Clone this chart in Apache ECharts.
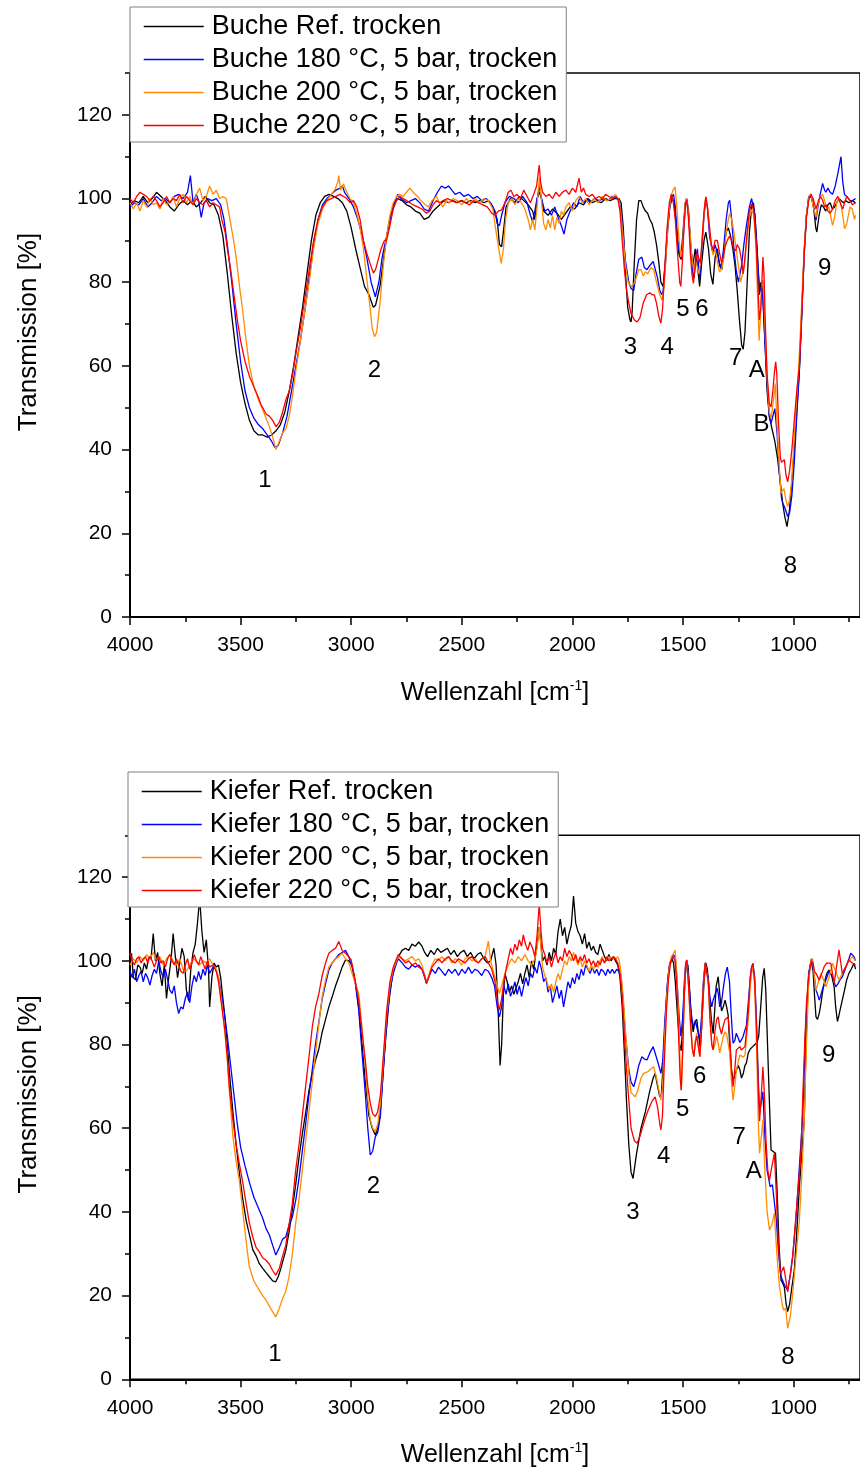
<!DOCTYPE html>
<html>
<head>
<meta charset="utf-8">
<script src="https://cdn.jsdelivr.net/npm/echarts@6/dist/echarts.min.js"></script>
<style>
html,body{margin:0;padding:0;background:#fff;}
#chart{width:860px;height:1472px;}
</style>
</head>
<body>
<div id="chart"></div>
<script>
// ---------- tick values ----------
const xTickLabels = [1000, 1500, 2000, 2500, 3000, 3500, 4000];
const xMinorTicks = [750, 1250, 1750, 2250, 2750, 3250, 3750];
const yTickLabels = [0, 20, 40, 60, 80, 100, 120];
const yMinorTicks = [10, 30, 50, 70, 90, 110, 130];

// ---------- series names ----------
const bucheNames = ['Buche Ref. trocken', 'Buche 180 °C, 5 bar, trocken', 'Buche 200 °C, 5 bar, trocken', 'Buche 220 °C, 5 bar, trocken'];
const kieferNames = ['Kiefer Ref. trocken', 'Kiefer 180 °C, 5 bar, trocken', 'Kiefer 200 °C, 5 bar, trocken', 'Kiefer 220 °C, 5 bar, trocken'];
const colors = ['#000000', '#0000ff', '#ff8c00', '#ff0000'];

// ---------- Buche: [wavenumber, transmission] ----------
const bucheRef = [[4000,98.5],[3980,99.5],[3960,99],[3940,100.5],[3920,99],[3900,100],[3880,101.5],[3860,100.5],[3840,99.5],[3820,98],[3800,97],[3780,98.5],[3760,99.5],[3740,98.5],[3720,99.5],[3700,98],[3680,99],[3660,100.5],[3640,99],[3620,98.5],[3600,96],[3580,91],[3560,82],[3540,72],[3520,63],[3500,56],[3480,51],[3460,47],[3440,44.5],[3420,43.5],[3400,43.5],[3380,43],[3360,43.5],[3340,44.5],[3320,46],[3300,49],[3280,54],[3260,60],[3240,67],[3220,74],[3200,82],[3180,90],[3160,96],[3140,99],[3120,100.5],[3100,101],[3080,100.5],[3060,100],[3040,99],[3020,97],[3000,93],[2980,88],[2960,83.5],[2940,79],[2920,77],[2900,74],[2890,74.5],[2870,79],[2850,87],[2830,94],[2810,98.5],[2790,100],[2770,99.5],[2750,98.5],[2730,98],[2710,97],[2690,96.5],[2670,95],[2650,95.5],[2630,97],[2600,98.5],[2580,99.5],[2560,99],[2540,99.5],[2520,99],[2500,99.5],[2480,99],[2460,99.5],[2440,99],[2420,99.5],[2400,99],[2380,99.5],[2360,98],[2340,95],[2330,89],[2320,88.5],[2310,93],[2300,98],[2280,100],[2260,99],[2240,100.5],[2220,99.5],[2200,98.5],[2180,97],[2170,95],[2160,99.5],[2150,103],[2140,100],[2130,97],[2110,96],[2090,97.5],[2070,96.5],[2050,95],[2030,96.5],[2010,98],[1990,97.5],[1970,99],[1950,98.5],[1930,100],[1910,99],[1890,99.5],[1870,99],[1850,100],[1830,99.5],[1810,100],[1790,100],[1780,99],[1770,93],[1760,82],[1750,74],[1740,71],[1735,70.5],[1730,73],[1720,85],[1710,95],[1700,99.5],[1690,99.5],[1680,98],[1670,97],[1660,96.5],[1650,95],[1640,94],[1630,92],[1620,89],[1610,85],[1600,80],[1590,79],[1580,85],[1570,93],[1560,98],[1550,100],[1540,99],[1530,93],[1520,87],[1510,85.5],[1500,92],[1490,99],[1483,99.5],[1475,96],[1465,88],[1455,84],[1445,88],[1435,84],[1425,79],[1415,85],[1405,90],[1397,92],[1385,88],[1375,82],[1365,79.5],[1355,86],[1345,88],[1335,84],[1325,83],[1315,88],[1305,92],[1295,93],[1285,91],[1275,88],[1265,84],[1255,78],[1245,71],[1235,65],[1228,64],[1220,68],[1210,80],[1200,92],[1190,98],[1182,99],[1175,96],[1165,88],[1155,77],[1148,80],[1140,78],[1130,66],[1120,54],[1110,48],[1100,45.5],[1085,42],[1072,37.6],[1060,32],[1049,27],[1040,24],[1030,21.6],[1020,25],[1010,31],[997,40],[985,50],[974,59],[962,75],[952,87],[942,96],[932,100],[920,100.5],[910,98],[900,93],[895,92],[885,96],[875,98.5],[865,98],[855,97],[845,98.5],[835,99],[825,97.5],[815,98],[805,99],[795,100],[785,99.5],[775,99],[765,99.5],[750,99],[735,99.5],[720,99]];

const buche180 = [[4000,98],[3980,99],[3960,98.5],[3940,100],[3920,98],[3900,99],[3880,100.5],[3860,99.5],[3840,100],[3820,99],[3800,100.5],[3780,101],[3760,100],[3740,101.5],[3727,105.5],[3715,99],[3700,101],[3690,99.5],[3678,95.5],[3665,99],[3650,100],[3630,99.5],[3610,100],[3590,98.5],[3575,95],[3560,89],[3540,80],[3520,70],[3500,61],[3480,54],[3460,50],[3440,47.5],[3420,46],[3400,45],[3380,43.5],[3360,42],[3345,40.5],[3330,41],[3310,44],[3290,48],[3270,54],[3250,60],[3230,66],[3210,73],[3190,81],[3170,89],[3150,95],[3130,98.5],[3110,100],[3090,101],[3070,102],[3050,102.5],[3040,103],[3030,101.5],[3010,100],[2990,98],[2970,95],[2950,91],[2930,86],[2910,80],[2891,76.5],[2875,80],[2860,86],[2840,91],[2820,96],[2800,99.5],[2790,101],[2775,100],[2750,99],[2730,99.5],[2710,100],[2690,99],[2670,97.5],[2650,97],[2630,99.5],[2610,101.5],[2592,103],[2575,102.5],[2560,103],[2545,102],[2530,101],[2510,101.5],[2490,100.5],[2470,101],[2450,100],[2430,100.5],[2410,99.5],[2390,100],[2370,99],[2350,97],[2340,94],[2330,93.5],[2320,96],[2305,99],[2285,100.5],[2265,100],[2245,99],[2225,100.5],[2205,99],[2190,96],[2180,94.5],[2170,97],[2160,100],[2150,101.5],[2140,100],[2125,97],[2110,97.5],[2095,96],[2080,98],[2065,95.5],[2050,93.5],[2038,91.5],[2025,95],[2010,97],[1995,99],[1980,98],[1965,100.5],[1950,99],[1935,100],[1920,99],[1900,100],[1880,99.5],[1860,100],[1840,99.5],[1820,100.5],[1800,100],[1790,99.5],[1780,97],[1770,91],[1760,85],[1745,80],[1735,78.5],[1723,78],[1712,82],[1700,85.5],[1686,86],[1675,83.5],[1663,83],[1650,84],[1635,85],[1626,84.6],[1615,81],[1605,78],[1596,77],[1590,78],[1580,84],[1570,92],[1560,98],[1550,100.5],[1543,101],[1535,98],[1525,91],[1515,86.5],[1507,85.5],[1500,90],[1490,98],[1483,100],[1475,97],[1465,89],[1455,82],[1450,81],[1442,86],[1435,88],[1430,84],[1424,81],[1415,88],[1405,96],[1397,99.5],[1390,98],[1380,91],[1370,88],[1364,87],[1355,89],[1345,87],[1335,84.5],[1326,83.6],[1315,89],[1305,95],[1295,99],[1289,99.6],[1280,95],[1270,88],[1260,83],[1250,80],[1243,79.7],[1235,84],[1225,89],[1215,93],[1200,98],[1190,100],[1184,100],[1175,96],[1165,87],[1155,79],[1148,78],[1140,77],[1130,66],[1120,56],[1110,48],[1102,46.3],[1094,48],[1085,49.8],[1075,44],[1065,35],[1055,28.5],[1049,27.2],[1042,26.4],[1036,25.5],[1027,24],[1018,25],[1008,29],[997,37],[987,47],[975,58],[963,72],[952,87.7],[942,96],[932,100.4],[922,101],[912,98.5],[899,94.8],[890,98],[880,101],[869,103.6],[860,102],[854,101.5],[845,102.5],[835,101.5],[824,101],[812,103],[800,106],[786,110],[778,104],[770,101],[760,100.5],[745,99.5],[734,99.5],[720,100]];

const buche200 = [[4000,99],[3985,97.5],[3970,99],[3955,97],[3940,99.5],[3925,98],[3910,100],[3895,98.5],[3880,99],[3865,97.5],[3850,100],[3835,98.5],[3820,99],[3805,100.5],[3790,98],[3775,100],[3760,101],[3745,99],[3730,100.5],[3715,98.5],[3700,101],[3685,102.5],[3670,99.5],[3655,100.5],[3640,103],[3625,101],[3610,102],[3595,100],[3580,100.5],[3565,100],[3555,97],[3545,94],[3535,91],[3520,86],[3505,79],[3490,73],[3475,66],[3460,60],[3440,55],[3420,52],[3400,49.5],[3385,47.5],[3370,45.5],[3355,43],[3340,40],[3325,42],[3310,44],[3295,45],[3280,48],[3265,53],[3250,59],[3230,66],[3210,73],[3190,80],[3170,88],[3150,94],[3130,97.5],[3110,99.5],[3090,101],[3075,102],[3060,104],[3056,105.5],[3048,102],[3035,103.5],[3020,101.5],[3005,100],[2990,99],[2975,96.5],[2960,93],[2945,88],[2930,81],[2915,74],[2905,69],[2895,67],[2885,68],[2870,75],[2855,84],[2840,91],[2825,96],[2810,99],[2795,100.5],[2780,101],[2765,100.5],[2750,101.5],[2735,102.5],[2720,101.5],[2700,100.5],[2685,99.5],[2665,98.5],[2650,98],[2635,99.5],[2615,100.5],[2600,99],[2585,98],[2570,99.5],[2555,99],[2540,100],[2520,99.5],[2500,98.5],[2480,100],[2460,99],[2440,100],[2420,99],[2400,100],[2380,99.5],[2360,97.5],[2345,92],[2333,88],[2322,84.5],[2312,88],[2302,95],[2290,99],[2275,100],[2260,98.5],[2245,100],[2230,99],[2215,97.5],[2200,95],[2190,92.5],[2180,95],[2170,92.5],[2160,98],[2150,105],[2140,99.5],[2130,94],[2120,92.5],[2110,95],[2100,93],[2090,96],[2080,92.5],[2070,95.5],[2060,94],[2050,97],[2040,96],[2030,98],[2015,99],[2000,97],[1985,99.5],[1970,100.5],[1955,99],[1940,100],[1925,98.5],[1905,100],[1885,99],[1865,100.5],[1845,99.5],[1825,100],[1805,101],[1790,99.5],[1780,96],[1770,90],[1760,84],[1748,80],[1735,79],[1723,79.5],[1712,81],[1700,83],[1690,83],[1680,81.5],[1670,82.5],[1660,82],[1645,83.5],[1633,83],[1620,80],[1605,77],[1595,75.7],[1585,79],[1575,88],[1565,96],[1555,100.5],[1545,102],[1536,102.8],[1528,98],[1518,90],[1510,86],[1503,88],[1495,95],[1488,100],[1480,99],[1470,93],[1460,86],[1452,83],[1445,85],[1437,84],[1428,82],[1420,85],[1410,93],[1400,99.5],[1395,100.4],[1385,96],[1375,90],[1364,86.5],[1355,88],[1345,85],[1335,82.5],[1326,83],[1315,86],[1305,92],[1295,95],[1289,96.4],[1280,95],[1270,92],[1260,88],[1250,84],[1240,80],[1232,79.7],[1222,84],[1212,90],[1200,95.5],[1190,97.4],[1180,96],[1170,88],[1162,75],[1156,66],[1150,72],[1143,80],[1137,80.5],[1130,70],[1120,57],[1110,49],[1102,47.5],[1093,51],[1083,55.8],[1075,46],[1065,36],[1057,29.6],[1050,30.2],[1044,30.7],[1035,28],[1027,26.4],[1018,28],[1008,33],[998,42],[988,51],[977,60],[966,72],[954,86],[943,96],[932,100],[922,101.2],[912,98],[899,95.6],[890,98.5],[880,100.5],[869,101],[860,99.5],[850,97.5],[840,98],[830,95],[824,93.6],[815,95.5],[805,99],[795,100],[786,98.5],[778,96],[770,92.8],[760,94],[745,98],[735,97.5],[725,95],[720,96]];

const buche220 = [[4000,100],[3985,99],[3970,100.5],[3955,101.5],[3940,101],[3925,100.5],[3910,99.5],[3895,100.5],[3880,99.5],[3865,98],[3850,99],[3835,100.5],[3820,99],[3805,100],[3790,99.5],[3775,101],[3760,99],[3745,100.5],[3730,99.5],[3715,98.5],[3700,100],[3685,99],[3670,98.5],[3655,99.5],[3640,98],[3625,99],[3610,98.5],[3595,98],[3585,95],[3570,92],[3560,88],[3545,83],[3530,77],[3515,71],[3500,66],[3480,61],[3460,57.5],[3440,55],[3420,52.5],[3410,51],[3400,50],[3385,48.5],[3370,48],[3355,47],[3340,45.5],[3325,46.5],[3310,49],[3295,52],[3280,54],[3265,58],[3250,63],[3230,69],[3210,76],[3190,83],[3170,90],[3150,95],[3130,98],[3110,99.5],[3090,100],[3070,100.5],[3050,101],[3035,100.5],[3020,100],[3005,99],[2990,99.5],[2975,98],[2960,95],[2945,90],[2930,87],[2915,84.5],[2900,82.2],[2890,83],[2880,85],[2865,88],[2850,90],[2840,90],[2825,93.5],[2810,97.5],[2795,99.5],[2780,100.5],[2765,100],[2750,99.5],[2735,99],[2720,98.5],[2700,98],[2680,97.5],[2660,96.5],[2645,97],[2630,98.5],[2615,99.5],[2600,99],[2585,99.5],[2565,100],[2545,99.5],[2525,99],[2505,99.5],[2485,99],[2465,98.5],[2445,99.5],[2425,99],[2405,98.5],[2385,98],[2365,96.5],[2350,96],[2335,97],[2320,97.3],[2305,99],[2290,101.5],[2278,102],[2265,100.5],[2250,101],[2235,100],[2220,102],[2205,100.5],[2190,99],[2175,101],[2162,103],[2155,106],[2150,108],[2144,104],[2135,101.5],[2120,100.5],[2105,101],[2090,100],[2075,101.5],[2060,100.5],[2045,101.5],[2030,102],[2015,101],[2000,102.5],[1985,101.5],[1970,104.9],[1960,101.5],[1950,102.5],[1940,101],[1925,100.5],[1910,101],[1895,100],[1880,100.5],[1865,100],[1850,101],[1835,100.5],[1820,100],[1805,100.5],[1795,100],[1785,97],[1775,90],[1765,83],[1755,78],[1745,75],[1735,72.5],[1720,71],[1708,70.5],[1695,71.5],[1680,75],[1665,77],[1650,77.5],[1640,77],[1630,77],[1620,75],[1610,72],[1600,70.2],[1592,74],[1582,84],[1572,93],[1562,99],[1553,101],[1545,99.5],[1535,95],[1525,87],[1515,80],[1510,79],[1503,85],[1495,94],[1488,99],[1483,99.6],[1475,95],[1467,87],[1460,82],[1453,79.7],[1445,84],[1437,87],[1430,86],[1422,84.5],[1414,90],[1405,97],[1397,100.4],[1390,98],[1380,93],[1372,89],[1364,87.7],[1355,90],[1345,90],[1335,87],[1326,84.7],[1318,86],[1310,88.5],[1300,90],[1290,91],[1280,90],[1270,88],[1262,87.5],[1255,89],[1245,88],[1235,85],[1228,82],[1220,86],[1210,92],[1200,97],[1190,98.8],[1180,97],[1170,90],[1162,80],[1155,71],[1148,74],[1142,82],[1139,86],[1134,82],[1128,70],[1120,58],[1110,51],[1102,50.2],[1094,54],[1086,59],[1081,61],[1076,58],[1068,46],[1060,38],[1055,37],[1048,37.2],[1042,37.6],[1035,34],[1027,32.3],[1018,35],[1008,40],[997,47],[986,54],[974,60],[963,73],[952,87],[942,95.5],[932,99.5],[922,101],[912,100],[899,97.5],[888,99.5],[878,100.5],[869,99.6],[860,98],[854,98.5],[845,97],[835,96.5],[824,97.5],[812,99.5],[800,100.5],[786,98.5],[778,97.5],[770,99],[760,100.5],[745,99.5],[734,98.5],[720,99]];

// ---------- Kiefer: [wavenumber, transmission] ----------
const kieferRef = [[4000,100],[3993,101.8],[3985,96],[3975,95.5],[3965,99],[3955,98.5],[3945,97],[3935,99.5],[3925,98],[3915,101],[3905,100.5],[3895,106.5],[3885,100],[3875,102],[3865,97],[3855,94],[3845,99],[3835,91],[3825,96],[3815,100],[3805,106.5],[3795,101],[3785,96],[3775,99.5],[3765,103],[3755,101],[3745,93],[3735,90.5],[3725,98],[3715,102],[3705,104],[3695,109],[3685,115],[3675,107],[3665,102],[3655,105],[3645,98],[3640,89],[3630,96],[3620,99.5],[3610,98.5],[3600,99],[3590,96],[3580,91],[3570,86],[3560,80],[3550,73],[3535,64],[3520,56],[3505,49],[3490,43],[3475,38],[3460,34.5],[3445,31],[3430,29.5],[3416,27.7],[3400,26.5],[3385,25.5],[3370,24.5],[3355,23.5],[3341,23.3],[3330,24.5],[3318,26.5],[3305,29],[3295,31],[3280,35.5],[3265,41],[3250,47],[3236,53],[3220,59],[3205,64],[3191,69],[3176,73],[3161,76.3],[3146,79],[3131,83],[3116,86],[3101,89],[3086,91.4],[3071,94],[3056,96.2],[3041,98.5],[3026,100.2],[3010,100],[2996,99],[2981,95],[2966,89],[2951,80],[2936,71],[2920,63],[2905,60],[2891,58.4],[2880,60],[2870,63],[2860,70],[2845,81],[2830,90],[2815,96],[2800,99.5],[2787,101],[2770,102.5],[2755,103],[2740,102.5],[2725,104],[2710,103.5],[2695,104.5],[2680,103.5],[2668,102],[2655,101],[2640,102.5],[2625,101.5],[2610,103],[2595,102],[2580,102.5],[2565,103],[2550,101.5],[2535,102.5],[2520,101],[2505,102],[2490,102.5],[2475,101],[2460,102],[2445,100.5],[2430,101.5],[2415,102],[2400,100.5],[2385,99.5],[2370,100],[2355,103],[2345,99],[2335,87],[2327,75],[2320,80],[2312,92],[2305,97],[2295,95],[2285,92.5],[2275,94],[2265,92],[2255,93.5],[2245,95],[2235,97],[2225,94.5],[2215,97],[2205,99],[2195,96],[2185,100],[2175,98],[2165,102],[2157,105],[2150,108],[2142,104],[2135,100],[2125,101],[2115,99],[2105,102],[2095,100],[2085,103],[2075,101.5],[2065,107],[2055,110],[2045,106],[2035,108],[2025,104],[2015,106.5],[2005,108.5],[1995,115.5],[1985,109],[1975,107],[1965,106],[1955,104],[1945,106.5],[1935,103],[1925,104.5],[1915,102.5],[1905,103.5],[1895,102],[1885,101.5],[1875,104],[1865,102.5],[1855,101],[1845,100],[1835,101.5],[1825,100],[1815,101],[1805,100],[1795,99],[1785,96],[1775,89],[1765,78],[1755,66],[1745,56],[1735,49.5],[1726,48],[1718,51],[1710,54],[1700,57],[1690,60],[1670,64],[1650,69],[1635,72],[1626,73.1],[1615,70],[1605,67.5],[1598,68],[1590,75],[1580,86],[1570,95],[1560,99.5],[1550,100.5],[1543,99.5],[1535,95],[1525,87],[1515,80],[1508,78.5],[1500,86],[1492,95],[1485,99.5],[1478,99],[1470,93],[1462,86],[1454,83],[1446,85.5],[1438,86],[1430,82.5],[1422,79],[1414,86],[1405,95],[1397,99.5],[1390,98],[1380,91],[1372,86],[1364,82.6],[1357,88],[1350,94],[1341,96.2],[1334,92],[1326,88],[1318,89],[1310,90.6],[1303,89],[1296,87],[1289,80],[1281,74],[1274,71.5],[1266,72.5],[1258,74],[1250,75],[1243,74],[1236,72],[1228,73],[1220,75],[1214,75.5],[1205,78],[1195,79],[1185,79.5],[1175,80],[1165,80.5],[1158,82],[1150,88],[1140,96],[1133,98.2],[1126,93],[1118,80],[1110,67],[1102,54.8],[1094,55],[1082,54],[1074,44],[1066,32],[1057,23.7],[1050,23],[1042,22],[1034,18],[1027,16.2],[1018,18],[1008,22],[997,26.1],[986,35],[974,46],[963,54],[952,62],[944,80],[936,92],[928,98],[920,100],[912,97.5],[906,92],[899,86.6],[892,86],[884,87.5],[876,90],[868,93],[862,94.6],[850,97],[840,97.8],[828,96.5],[817,93.8],[810,89],[802,85.5],[795,87],[787,89],[780,90.6],[770,93],[760,95.5],[750,97],[740,98],[727,99.4],[720,98]];

const kiefer180 = [[4000,97.5],[3990,96],[3980,98],[3970,95],[3960,96.5],[3950,97.5],[3940,95],[3930,97],[3920,96],[3910,94.2],[3900,96.5],[3890,98],[3880,97],[3870,100],[3860,97.5],[3850,96],[3840,98],[3830,95.5],[3820,93],[3810,92.2],[3800,94],[3790,90],[3780,87.4],[3770,89],[3760,88.5],[3750,91],[3740,92.5],[3730,90],[3720,94],[3710,96.5],[3700,95],[3690,97.5],[3680,95.5],[3670,98],[3660,96.5],[3650,99],[3640,97],[3630,98],[3620,99],[3610,97.5],[3600,96],[3590,93],[3575,88],[3560,82],[3545,75],[3530,68],[3515,61],[3500,55.5],[3480,51],[3460,47],[3440,43.5],[3420,41],[3400,38.5],[3385,36],[3370,34.5],[3355,32],[3341,29.7],[3325,31.5],[3310,33.5],[3296,34],[3280,37],[3266,38.8],[3250,43],[3236,48],[3220,55],[3206,61],[3191,68],[3176,74],[3161,80.3],[3146,85.5],[3131,91],[3116,94.5],[3101,97.8],[3086,99.5],[3071,100.5],[3056,101.5],[3041,102],[3026,102.5],[3011,101],[2996,98.5],[2981,94.5],[2966,88.2],[2951,78],[2936,68],[2925,60],[2914,53.6],[2903,54.5],[2891,58],[2880,59],[2868,63],[2855,74],[2840,85],[2825,93],[2810,97],[2795,99.5],[2787,100.5],[2770,99.5],[2755,98.5],[2740,98],[2725,99],[2710,98.5],[2695,99],[2680,98],[2668,96],[2660,94.6],[2650,96],[2635,98],[2620,97],[2605,98.5],[2590,97.5],[2575,96.5],[2560,98],[2545,97],[2530,98],[2515,96.5],[2500,98],[2485,97],[2470,98.5],[2455,97],[2440,98],[2425,97.5],[2410,96.5],[2395,98],[2380,97.5],[2365,96],[2352,94],[2340,89],[2330,86.6],[2320,89],[2310,94],[2300,92],[2290,94.5],[2280,91.5],[2270,93],[2260,95],[2250,92],[2240,94],[2230,91.5],[2220,94],[2210,96],[2200,94],[2190,97],[2180,96],[2170,98.5],[2160,97],[2150,100],[2140,98],[2130,95],[2120,96],[2110,92.5],[2100,94],[2090,90],[2080,92],[2070,94],[2060,91],[2050,93],[2040,89],[2030,92],[2020,95],[2010,93.5],[2000,96],[1990,94.5],[1980,97],[1970,95.5],[1960,98],[1950,96.5],[1940,99],[1930,98],[1920,97],[1910,98.5],[1900,97],[1890,98],[1880,96.5],[1870,98],[1860,97.5],[1850,96.5],[1840,98],[1830,97],[1820,98],[1810,97],[1800,98],[1790,97.5],[1780,96],[1770,90],[1760,82],[1745,74],[1735,71],[1723,69.9],[1712,72],[1700,75],[1686,77.1],[1673,76.5],[1663,76.3],[1650,78],[1635,79.5],[1626,79.5],[1615,76],[1600,73.1],[1592,76],[1583,85],[1573,93],[1563,98.5],[1553,100],[1545,101.5],[1536,101],[1528,96],[1518,87],[1510,82],[1502,86],[1494,95],[1488,99.5],[1483,100.2],[1475,96],[1466,89],[1458,85.5],[1451,84.3],[1444,85.5],[1439,85.1],[1432,83],[1424,81],[1416,87],[1408,95],[1400,99.5],[1394,99.8],[1386,96],[1378,91],[1370,89],[1364,90.6],[1355,92],[1346,93.5],[1341,92.2],[1334,89],[1326,90],[1318,93.5],[1308,97],[1300,98.5],[1296,98.6],[1290,95],[1282,87],[1274,80.3],[1266,81],[1259,82.7],[1250,81.5],[1243,80.5],[1236,81.1],[1228,82],[1220,83.5],[1214,84.3],[1205,90],[1196,96],[1190,98.5],[1184,99.4],[1176,96],[1168,86],[1160,72],[1154,63.6],[1147,66],[1139,68.7],[1130,58],[1120,50],[1106,46],[1096,46.5],[1087,46.4],[1078,38],[1068,30],[1057,24.5],[1045,23],[1036,22],[1027,21.3],[1015,25],[1003,30],[990,38],[975,50],[960,62],[945,85],[932,97],[920,100.5],[912,98.5],[906,96],[899,93],[892,92],[884,90.6],[876,92],[868,93.5],[862,93.8],[850,96],[840,97.5],[832,97.8],[822,96],[810,93.8],[800,94.5],[790,95.5],[780,96.2],[770,97.5],[760,99],[750,100.5],[742,101.8],[735,101.5],[727,101],[720,100]];

const kiefer200 = [[4000,99],[3985,100.5],[3970,99.5],[3955,101],[3940,100],[3925,101.5],[3910,100.5],[3895,102],[3880,100],[3865,101],[3850,99],[3835,100.5],[3820,101.5],[3805,100],[3790,99],[3775,100.5],[3760,98],[3745,97.5],[3730,99],[3715,100.5],[3700,100],[3685,99],[3670,100],[3655,99.5],[3640,100.5],[3625,99],[3610,98],[3600,96],[3585,90],[3570,82],[3560,76],[3551,69],[3535,58],[3520,52],[3506,47.6],[3490,40],[3475,33],[3461,27],[3440,23.5],[3416,21.3],[3400,20],[3386,19],[3365,17],[3341,14.9],[3325,17],[3310,19.3],[3296,21],[3281,24.5],[3266,30],[3251,37.3],[3236,43],[3221,50],[3206,57],[3191,64],[3176,71],[3161,78],[3146,85],[3131,91.5],[3116,95.5],[3101,98.5],[3086,99.5],[3071,100.5],[3056,101],[3041,101.8],[3026,100.5],[3011,99.5],[2996,97],[2981,94.5],[2966,92.2],[2951,84],[2936,75],[2925,67],[2914,62],[2903,60],[2891,59.2],[2880,61],[2868,66],[2855,76],[2840,87],[2825,94],[2810,98],[2795,100],[2787,101],[2770,100.5],[2755,100],[2740,100.5],[2725,101],[2710,100],[2695,100.5],[2680,99],[2668,96.5],[2660,95],[2650,96.5],[2635,99],[2620,100.5],[2605,100],[2590,101],[2575,100],[2560,101],[2545,99.5],[2530,100.5],[2515,100],[2500,99],[2485,100.5],[2470,101],[2455,100],[2440,100.5],[2425,99.5],[2410,100.5],[2395,101],[2380,104.7],[2370,100],[2360,98],[2345,95],[2330,92.2],[2318,94.5],[2305,97],[2290,99],[2275,100.5],[2260,99.5],[2245,101],[2230,100],[2215,101.5],[2200,100],[2185,99],[2170,100.5],[2160,103],[2150,108],[2142,103],[2135,98.5],[2125,96.5],[2115,95],[2105,93],[2095,94.5],[2085,92.5],[2075,95],[2065,97],[2055,95.5],[2045,98],[2035,100],[2025,99],[2015,101],[2005,100],[1995,102],[1985,100.5],[1975,99],[1965,100.5],[1955,98.5],[1945,100],[1935,99],[1925,97.5],[1915,99],[1905,98],[1895,99.5],[1885,98.5],[1875,100],[1865,101],[1855,99.5],[1845,100.5],[1835,101],[1825,100.5],[1815,101],[1805,100.5],[1795,101],[1788,100],[1780,97],[1770,91],[1760,83],[1745,73],[1735,68.5],[1716,67.5],[1705,69],[1690,72],[1678,73.1],[1660,73.5],[1633,74.7],[1620,72],[1600,66.7],[1592,70],[1583,82],[1573,92],[1563,98],[1553,101],[1545,101.5],[1536,102.6],[1528,97],[1520,87],[1512,73],[1508,69.1],[1502,78],[1494,92],[1488,99],[1483,100.2],[1475,94],[1466,85],[1458,79],[1451,77.1],[1444,81],[1438,82.7],[1431,80],[1424,77.1],[1416,84],[1408,94],[1400,99.5],[1394,99.8],[1386,95],[1378,86],[1370,80],[1364,78.7],[1356,80],[1348,82],[1341,80.3],[1334,78],[1326,80],[1318,82],[1310,83],[1303,82.5],[1296,82.7],[1289,78],[1281,71],[1274,66.7],[1266,70],[1259,73.9],[1250,76],[1243,77.5],[1236,77.1],[1228,77],[1220,77.5],[1214,77.1],[1205,86],[1196,94],[1190,97],[1184,98.6],[1176,94],[1168,80],[1160,62],[1154,54],[1146,58],[1139,62],[1130,50],[1120,40],[1109,35.7],[1098,37],[1087,39.7],[1076,30],[1064,22.1],[1052,18],[1045,16.5],[1036,17],[1027,12.2],[1015,15],[1004,20.5],[990,29],[974,38],[962,50],[952,62],[942,80],[932,95],[922,100],[914,100.5],[906,96],[899,93],[888,95],[877,97],[865,95.5],[854,93.8],[840,96],[824,99.4],[810,97.5],[795,95.4],[780,97],[765,98.6],[750,100],[735,101],[720,100]];

const kiefer220 = [[4000,101.8],[3990,100],[3980,99],[3970,100.5],[3960,101],[3950,99.5],[3940,100.5],[3930,101],[3920,99.5],[3910,101],[3900,100],[3890,98.5],[3880,100],[3870,101],[3860,99.5],[3850,100],[3840,98.5],[3830,100.5],[3820,101.5],[3810,100],[3800,99],[3790,100.5],[3780,99],[3770,97.5],[3760,97],[3750,99],[3740,100.5],[3730,98],[3720,99.5],[3710,101.5],[3700,100],[3690,99],[3680,101],[3670,99.5],[3660,98],[3650,100],[3640,98.5],[3625,99],[3610,97.5],[3600,95],[3585,89],[3570,83],[3560,77],[3551,70],[3535,62],[3520,56],[3506,51.6],[3490,47],[3475,42],[3461,37.5],[3445,34],[3430,31.5],[3416,30.5],[3400,29],[3386,28.5],[3370,27.5],[3355,26],[3341,24.9],[3325,26.5],[3311,29.3],[3296,32],[3281,37],[3266,42],[3251,50],[3236,56],[3221,63],[3206,70],[3191,77],[3176,84.2],[3161,89],[3146,92.2],[3131,96.5],[3116,99.5],[3101,101.8],[3086,102.5],[3071,103],[3056,104.6],[3041,102.5],[3026,101.8],[3011,101],[3000,100.2],[2985,96],[2966,90.6],[2951,83],[2936,76],[2925,70],[2914,66],[2903,63.5],[2891,62.8],[2880,64],[2868,68],[2855,77],[2840,88],[2825,95],[2810,98.5],[2795,100.5],[2787,101.5],[2770,100.5],[2755,99.5],[2740,100],[2725,99],[2710,99.5],[2695,98.5],[2680,98],[2668,96.5],[2660,94.6],[2650,96],[2635,98.5],[2620,99.5],[2605,100.5],[2590,99.5],[2575,100.5],[2560,101],[2545,100],[2530,99.5],[2515,100.5],[2500,100],[2485,99.5],[2470,100.5],[2455,101],[2440,100],[2425,99.5],[2410,100.5],[2395,101],[2380,99.5],[2365,98],[2350,95],[2338,90],[2330,88.2],[2320,91],[2310,95],[2300,98],[2290,100.5],[2280,103],[2270,101.5],[2260,104],[2250,102.5],[2240,105],[2230,103.5],[2222,106.2],[2212,104],[2202,102.5],[2192,104.5],[2180,103],[2170,101],[2160,106],[2150,113.6],[2142,107],[2135,103],[2125,101.5],[2115,99.5],[2105,101],[2095,98.5],[2085,100.5],[2075,102],[2065,99.5],[2055,101],[2045,100],[2035,103],[2025,101],[2015,102.5],[2005,101.5],[1995,100],[1985,101.5],[1975,99.5],[1965,101],[1955,100],[1945,101.5],[1935,99.5],[1925,100.5],[1915,99],[1905,100],[1895,98.5],[1885,100],[1875,99],[1865,100.5],[1855,99.5],[1845,101],[1835,100],[1825,100.5],[1815,101],[1805,100.5],[1795,99.5],[1785,97],[1775,91],[1765,82],[1750,70],[1735,60],[1720,57],[1708,56.4],[1695,58],[1678,61.2],[1660,64],[1640,66.5],[1626,67.5],[1615,65],[1605,61],[1600,59.6],[1593,63],[1585,75],[1575,88],[1565,96],[1555,100],[1545,101],[1536,100],[1528,94],[1520,82],[1513,72],[1508,69.1],[1502,78],[1494,92],[1488,99],[1483,100.2],[1475,94],[1466,85],[1458,79],[1451,77.1],[1444,80.5],[1438,82],[1431,79.5],[1424,77.1],[1416,84],[1408,94],[1400,99.5],[1394,99.8],[1386,95],[1378,86],[1370,80],[1364,78.7],[1356,83],[1348,86],[1341,86.6],[1334,84],[1326,82.5],[1318,84.5],[1310,86],[1303,86],[1296,86.6],[1289,82],[1281,74],[1274,69.9],[1266,74],[1259,78.7],[1250,79],[1243,79.5],[1236,78.7],[1228,78.5],[1220,79.5],[1214,79.5],[1205,88],[1196,96],[1190,98.5],[1184,99.4],[1176,95],[1168,84],[1160,70],[1154,61.7],[1146,68],[1139,74.7],[1132,68],[1125,57],[1117,50],[1109,47.6],[1098,51],[1087,54],[1078,44],[1070,33],[1060,25.3],[1052,26],[1045,26.9],[1036,24],[1027,20.9],[1015,25],[1005,29],[997,34.2],[982,44],[967,54],[957,70],[950,80],[942,90],[932,96.5],[920,100],[912,99.5],[906,97.5],[899,97],[884,95.4],[873,97],[862,98.6],[850,99.5],[832,99.4],[817,94.6],[805,99],[795,102.6],[780,97],[765,98.5],[750,100.2],[735,99.5],[720,99]];

// ---------- band annotations: [wavenumber, transmission, label] ----------
const bucheMarks = [[3390,32.7,'1'],[2895,59,'2'],[1738,64.5,'3'],[1572,64.5,'4'],[1500,73.4,'5'],[1415,73.4,'6'],[1262,61.9,'7'],[1167,59,'A'],[1145,46.1,'B'],[1015,12.2,'8'],[860,83.4,'9']];
const kieferMarks = [[3345,6,'1'],[2900,46,'2'],[1727,39.8,'3'],[1587,53.2,'4'],[1502,64.4,'5'],[1425,72.3,'6'],[1246,57.7,'7'],[1180,49.6,'A'],[1026,5.3,'8'],[842,77.5,'9']];

// ---------- chart ----------
const FONT = '"Liberation Sans", Arial, sans-serif';
const X_MIN = 700, X_MAX = 4000, Y_MIN = 0, Y_MAX = 130;

function xMain(grid) {
  return {
    type: 'value', gridIndex: grid, position: 'bottom', inverse: true, min: X_MIN, max: X_MAX,
    name: '{a|Wellenzahl [cm}{s|-1}{a|]}', nameLocation: 'middle', nameGap: 62,
    nameTextStyle: { fontFamily: FONT, color: '#000', fontSize: 25,
      rich: { a: { fontFamily: FONT, color: '#000', fontSize: 25, lineHeight: 28 },
              s: { fontFamily: FONT, color: '#000', fontSize: 14, verticalAlign: 'top', lineHeight: 14 } } },
    axisLine: { show: true, onZero: false, lineStyle: { color: '#000', width: 2 } },
    axisTick: { show: true, customValues: xTickLabels, length: 8, lineStyle: { color: '#000', width: 1.5 } },
    axisLabel: { show: true, customValues: xTickLabels, margin: 18, fontFamily: FONT, fontSize: 21, color: '#000',
      formatter: v => String(v) },
    splitLine: { show: false }
  };
}
function xMinor(grid) {
  return {
    type: 'value', gridIndex: grid, position: 'bottom', inverse: true, min: X_MIN, max: X_MAX,
    axisLine: { show: false, onZero: false },
    axisTick: { show: true, customValues: xMinorTicks, length: 5, lineStyle: { color: '#000', width: 1.5 } },
    axisLabel: { show: false }, splitLine: { show: false }
  };
}
function yMain(grid) {
  return {
    type: 'value', gridIndex: grid, position: 'left', min: Y_MIN, max: Y_MAX,
    name: 'Transmission [%]', nameLocation: 'middle', nameRotate: 90, nameGap: 88,
    nameTextStyle: { fontFamily: FONT, color: '#000', fontSize: 26, padding: [0, 0, 0, 26] },
    axisLine: { show: true, onZero: false, lineStyle: { color: '#000', width: 2 } },
    axisTick: { show: true, customValues: yTickLabels, length: 8, lineStyle: { color: '#000', width: 1.5 } },
    axisLabel: { show: true, customValues: yTickLabels, margin: 18, fontFamily: FONT, fontSize: 21, color: '#000',
      formatter: v => String(v) },
    splitLine: { show: false }
  };
}
function yMinor(grid) {
  return {
    type: 'value', gridIndex: grid, position: 'left', min: Y_MIN, max: Y_MAX,
    axisLine: { show: false, onZero: false },
    axisTick: { show: true, customValues: yMinorTicks, length: 5, lineStyle: { color: '#000', width: 1.5 } },
    axisLabel: { show: false }, splitLine: { show: false }
  };
}
function lineSeries(name, data, color, axis) {
  return {
    name: name, type: 'line', data: data, xAxisIndex: axis, yAxisIndex: axis,
    symbol: 'none', showSymbol: false, smooth: false, silent: true,
    lineStyle: { color: color, width: 1.3 }, itemStyle: { color: color }
  };
}
function markSeries(data, axis) {
  return {
    type: 'scatter', data: data, xAxisIndex: axis, yAxisIndex: axis, symbol: 'circle', symbolSize: 1, silent: true, z: 5,
    itemStyle: { color: 'rgba(0,0,0,0)' },
    label: { show: true, position: 'inside', formatter: p => p.value[2], fontFamily: FONT, fontSize: 24,
      color: '#000', opacity: 1, textBorderWidth: 0 }
  };
}
function legend(names, left, top) {
  return {
    data: names, orient: 'vertical', left: left, top: top, itemGap: 0, itemWidth: 60, itemHeight: 14,
    padding: [3, 9, 0, 13], backgroundColor: '#fff', borderColor: '#808080', borderWidth: 1,
    selectedMode: false, z: 10,
    itemStyle: { opacity: 0 },
    lineStyle: { width: 1.5 },
    textStyle: { fontFamily: FONT, fontSize: 27, lineHeight: 33, color: '#000', padding: [0, 0, 0, 3] }
  };
}

const chart = echarts.init(document.getElementById('chart'), null, { renderer: 'canvas' });
chart.setOption({
  animation: false,
  backgroundColor: '#fff',
  grid: [
    { left: 130, top: 73, width: 734.3, height: 544, show: true, borderColor: '#000', borderWidth: 1.5, backgroundColor: 'transparent' },
    { left: 130, top: 835.3, width: 734.3, height: 544, show: true, borderColor: '#000', borderWidth: 1.5, backgroundColor: 'transparent' }
  ],
  legend: [legend(bucheNames, 130, 7), legend(kieferNames, 128, 772)],
  xAxis: [xMain(0), xMinor(0), xMain(1), xMinor(1)],
  yAxis: [yMain(0), yMinor(0), yMain(1), yMinor(1)],
  series: [
    lineSeries(bucheNames[0], bucheRef, colors[0], 0),
    lineSeries(bucheNames[1], buche180, colors[1], 0),
    lineSeries(bucheNames[2], buche200, colors[2], 0),
    lineSeries(bucheNames[3], buche220, colors[3], 0),
    markSeries(bucheMarks, 0),
    lineSeries(kieferNames[0], kieferRef, colors[0], 2),
    lineSeries(kieferNames[1], kiefer180, colors[1], 2),
    lineSeries(kieferNames[2], kiefer200, colors[2], 2),
    lineSeries(kieferNames[3], kiefer220, colors[3], 2),
    markSeries(kieferMarks, 2)
  ]
});
</script>
</body>
</html>
